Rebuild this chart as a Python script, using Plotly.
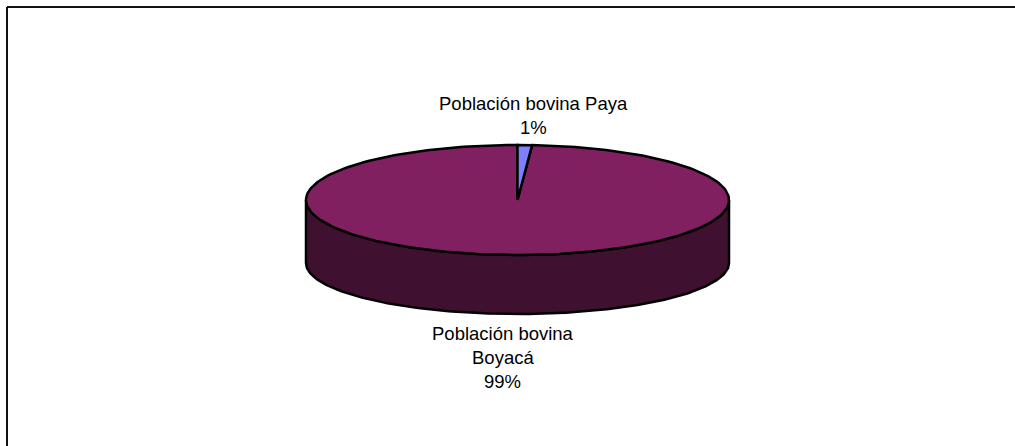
import numpy as np
import plotly.graph_objects as go

###############################################################################
# Data
###############################################################################
labels = ['Población bovina Paya', 'Población bovina Boyacá']
values = [1.1, 98.9]
labelLines = (
    ['Población bovina Paya', '1%'],
    ['Población bovina', 'Boyacá', '99%'],
)
colors = ['#8080FF', '#802060']
sideColor = '#401030'

###############################################################################
# Page geometry (pixels)
###############################################################################
(W, H) = (1015, 446)
(CX, CY, RX, RY) = (517.5, 200, 211.5, 55)
(DEPTH, RY_LOW) = (63, 51)  # lower rim is a bit flatter than the top face
FONT = 'Liberation Sans'
EDGE = dict(color='black', width=2.5)


def sector(start, end):
    # Elliptic slice, clockwise from the top of the pie, in unit coordinates
    ang = np.radians(np.linspace(start, end, 241))
    return (
        np.concatenate(([0], np.sin(ang), [0])),
        np.concatenate(([0], np.cos(ang), [0])),
    )


###############################################################################
# Pie body and slices
###############################################################################
fig = go.Figure()
ang = np.radians(np.linspace(90, 270, 181))
(xs, ys) = (np.sin(ang), np.cos(ang))
fig.add_trace(go.Scatter(
    x=np.concatenate((xs, xs[::-1], xs[:1])),
    y=np.concatenate((ys, ys[::-1] * RY_LOW / RY - DEPTH / RY, ys[:1])),
    mode='lines', fill='toself', fillcolor=sideColor,
    line=EDGE, hoverinfo='skip', showlegend=False,
))
# Large slice first so the small one sits on top of its outline
angles = np.cumsum([0] + values) / sum(values) * 360
for i in (1, 0):
    (px_, py_) = sector(angles[i], angles[i + 1])
    fig.add_trace(go.Scatter(
        x=px_, y=py_, mode='lines', fill='toself', fillcolor=colors[i],
        line=EDGE, name=labels[i], showlegend=False,
    ))

###############################################################################
# Labels
###############################################################################
labelPos = ((533, 103, 25), (502.5, 333, 24))
for (lines, (lx, ly, step)) in zip(labelLines, labelPos):
    for (j, line) in enumerate(lines):
        fig.add_annotation(
            text=line, xref='paper', yref='paper', showarrow=False,
            x=lx / W, y=1 - (ly + j * step) / H,
            xanchor='center', yanchor='middle',
            font=dict(family=FONT, size=18.5, color='black'),
        )

###############################################################################
# Frame: only top and left edges show in the crop
###############################################################################
for (x0, y0, x1, y1) in ((7, 7, W, 7), (7, 7, 7, H)):
    fig.add_shape(
        type='line', xref='paper', yref='paper',
        x0=x0 / W, y0=1 - y0 / H, x1=x1 / W, y1=1 - y1 / H,
        line=dict(color='#111111', width=2),
    )

fig.update_xaxes(range=[-CX / RX, (W - CX) / RX], visible=False)
fig.update_yaxes(range=[-(H - CY) / RY, CY / RY], visible=False)
fig.update_layout(
    width=W, height=H, margin=dict(l=0, r=0, t=0, b=0),
    paper_bgcolor='white', plot_bgcolor='white',
)
# Page body keeps a default 8px margin, drop it so the figure fills the window
fig.write_html(
    'out.html', config={'displayModeBar': False},
    post_script="document.body.style.margin='0';",
)
